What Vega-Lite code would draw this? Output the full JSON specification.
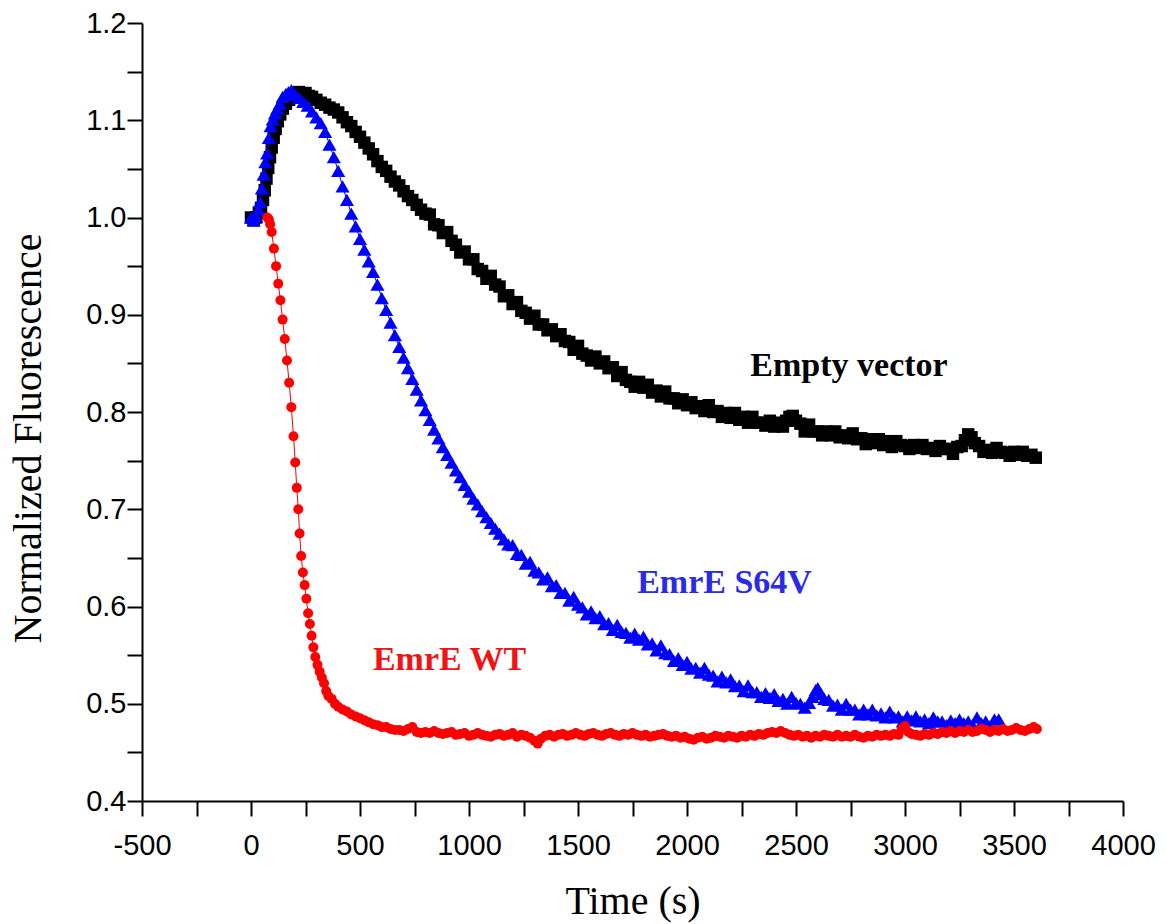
{
  "$schema": "https://vega.github.io/schema/vega-lite/v6.json",
  "width": 981,
  "height": 778,
  "autosize": {"type": "none"},
  "padding": {"left": 142, "top": 23, "right": 43, "bottom": 123},
  "background": "white",
  "config": {"view": {"stroke": null}},
  "datasets": {
    "empty": [
      {"t":0,"v":1.000},{"t":12,"v":0.997},{"t":24,"v":1.000},{"t":36,"v":1.005},{"t":46,"v":1.010},{"t":55,"v":1.018},{"t":63,"v":1.028},{"t":71,"v":1.040},{"t":79,"v":1.051},{"t":87,"v":1.062},{"t":95,"v":1.072},{"t":104,"v":1.082},{"t":113,"v":1.091},{"t":123,"v":1.099},{"t":134,"v":1.106},{"t":146,"v":1.112},{"t":160,"v":1.117},{"t":175,"v":1.121},{"t":190,"v":1.124},{"t":205,"v":1.127},{"t":220,"v":1.129},{"t":235,"v":1.127},{"t":250,"v":1.128},{"t":265,"v":1.125},{"t":280,"v":1.124},{"t":300,"v":1.121},{"t":320,"v":1.118},{"t":340,"v":1.116},{"t":360,"v":1.113},{"t":380,"v":1.111},{"t":400,"v":1.108},{"t":420,"v":1.103},{"t":440,"v":1.098},{"t":460,"v":1.094},{"t":480,"v":1.088},{"t":500,"v":1.083},{"t":520,"v":1.077},{"t":540,"v":1.071},{"t":560,"v":1.065},{"t":580,"v":1.058},{"t":600,"v":1.052},{"t":620,"v":1.048},{"t":640,"v":1.042},{"t":660,"v":1.037},{"t":680,"v":1.033},{"t":700,"v":1.027},{"t":720,"v":1.022},{"t":740,"v":1.018},{"t":760,"v":1.013},{"t":780,"v":1.008},{"t":800,"v":1.004},{"t":820,"v":1.003},{"t":840,"v":0.993},{"t":860,"v":0.992},{"t":880,"v":0.984},{"t":900,"v":0.985},{"t":920,"v":0.976},{"t":940,"v":0.972},{"t":960,"v":0.964},{"t":980,"v":0.965},{"t":1000,"v":0.957},{"t":1020,"v":0.957},{"t":1040,"v":0.947},{"t":1060,"v":0.945},{"t":1080,"v":0.937},{"t":1100,"v":0.940},{"t":1120,"v":0.931},{"t":1140,"v":0.929},{"t":1160,"v":0.919},{"t":1180,"v":0.920},{"t":1200,"v":0.911},{"t":1220,"v":0.913},{"t":1240,"v":0.904},{"t":1260,"v":0.902},{"t":1280,"v":0.896},{"t":1300,"v":0.899},{"t":1320,"v":0.890},{"t":1340,"v":0.890},{"t":1360,"v":0.884},{"t":1380,"v":0.885},{"t":1400,"v":0.878},{"t":1420,"v":0.880},{"t":1440,"v":0.873},{"t":1460,"v":0.872},{"t":1480,"v":0.864},{"t":1500,"v":0.868},{"t":1520,"v":0.860},{"t":1540,"v":0.858},{"t":1560,"v":0.853},{"t":1580,"v":0.857},{"t":1600,"v":0.850},{"t":1620,"v":0.852},{"t":1640,"v":0.845},{"t":1660,"v":0.846},{"t":1680,"v":0.837},{"t":1700,"v":0.841},{"t":1720,"v":0.833},{"t":1740,"v":0.831},{"t":1760,"v":0.826},{"t":1780,"v":0.831},{"t":1800,"v":0.825},{"t":1820,"v":0.828},{"t":1840,"v":0.820},{"t":1860,"v":0.822},{"t":1880,"v":0.816},{"t":1900,"v":0.821},{"t":1920,"v":0.814},{"t":1940,"v":0.814},{"t":1960,"v":0.809},{"t":1980,"v":0.813},{"t":2000,"v":0.807},{"t":2020,"v":0.810},{"t":2040,"v":0.804},{"t":2060,"v":0.806},{"t":2080,"v":0.801},{"t":2100,"v":0.807},{"t":2120,"v":0.800},{"t":2140,"v":0.801},{"t":2160,"v":0.795},{"t":2180,"v":0.799},{"t":2200,"v":0.794},{"t":2220,"v":0.799},{"t":2240,"v":0.792},{"t":2260,"v":0.795},{"t":2280,"v":0.789},{"t":2300,"v":0.795},{"t":2320,"v":0.789},{"t":2340,"v":0.789},{"t":2360,"v":0.786},{"t":2380,"v":0.791},{"t":2400,"v":0.785},{"t":2420,"v":0.789},{"t":2440,"v":0.785},{"t":2455,"v":0.791},{"t":2470,"v":0.795},{"t":2485,"v":0.796},{"t":2500,"v":0.791},{"t":2520,"v":0.788},{"t":2540,"v":0.780},{"t":2560,"v":0.787},{"t":2580,"v":0.780},{"t":2600,"v":0.780},{"t":2620,"v":0.776},{"t":2640,"v":0.780},{"t":2660,"v":0.776},{"t":2680,"v":0.780},{"t":2700,"v":0.774},{"t":2720,"v":0.776},{"t":2740,"v":0.773},{"t":2760,"v":0.778},{"t":2780,"v":0.772},{"t":2800,"v":0.773},{"t":2820,"v":0.767},{"t":2840,"v":0.772},{"t":2860,"v":0.768},{"t":2880,"v":0.772},{"t":2900,"v":0.766},{"t":2920,"v":0.770},{"t":2940,"v":0.764},{"t":2960,"v":0.770},{"t":2980,"v":0.766},{"t":3000,"v":0.765},{"t":3020,"v":0.762},{"t":3040,"v":0.766},{"t":3060,"v":0.763},{"t":3080,"v":0.766},{"t":3100,"v":0.762},{"t":3120,"v":0.763},{"t":3140,"v":0.760},{"t":3160,"v":0.765},{"t":3180,"v":0.762},{"t":3200,"v":0.762},{"t":3220,"v":0.757},{"t":3240,"v":0.764},{"t":3260,"v":0.765},{"t":3275,"v":0.771},{"t":3290,"v":0.777},{"t":3305,"v":0.774},{"t":3320,"v":0.768},{"t":3340,"v":0.765},{"t":3360,"v":0.759},{"t":3380,"v":0.761},{"t":3400,"v":0.758},{"t":3420,"v":0.763},{"t":3440,"v":0.759},{"t":3460,"v":0.758},{"t":3480,"v":0.755},{"t":3500,"v":0.759},{"t":3520,"v":0.756},{"t":3540,"v":0.759},{"t":3560,"v":0.755},{"t":3580,"v":0.756},{"t":3600,"v":0.753}
    ],
    "s64v": [
      {"t":0,"v":1.000},{"t":12,"v":0.997},{"t":24,"v":1.001},{"t":34,"v":1.008},{"t":42,"v":1.016},{"t":50,"v":1.030},{"t":58,"v":1.044},{"t":66,"v":1.057},{"t":74,"v":1.066},{"t":82,"v":1.082},{"t":90,"v":1.094},{"t":100,"v":1.101},{"t":110,"v":1.107},{"t":120,"v":1.112},{"t":132,"v":1.117},{"t":145,"v":1.124},{"t":160,"v":1.127},{"t":172,"v":1.129},{"t":185,"v":1.131},{"t":200,"v":1.126},{"t":220,"v":1.123},{"t":240,"v":1.119},{"t":260,"v":1.115},{"t":280,"v":1.109},{"t":300,"v":1.103},{"t":320,"v":1.097},{"t":340,"v":1.088},{"t":360,"v":1.075},{"t":380,"v":1.062},{"t":400,"v":1.048},{"t":420,"v":1.032},{"t":440,"v":1.018},{"t":460,"v":1.004},{"t":480,"v":0.991},{"t":500,"v":0.978},{"t":520,"v":0.967},{"t":540,"v":0.955},{"t":560,"v":0.944},{"t":580,"v":0.931},{"t":600,"v":0.917},{"t":620,"v":0.905},{"t":640,"v":0.892},{"t":660,"v":0.879},{"t":680,"v":0.867},{"t":700,"v":0.856},{"t":720,"v":0.845},{"t":740,"v":0.834},{"t":760,"v":0.823},{"t":780,"v":0.812},{"t":800,"v":0.802},{"t":820,"v":0.792},{"t":840,"v":0.782},{"t":860,"v":0.773},{"t":880,"v":0.764},{"t":900,"v":0.756},{"t":920,"v":0.748},{"t":940,"v":0.740},{"t":960,"v":0.733},{"t":980,"v":0.725},{"t":1000,"v":0.718},{"t":1020,"v":0.711},{"t":1040,"v":0.705},{"t":1060,"v":0.698},{"t":1080,"v":0.692},{"t":1100,"v":0.686},{"t":1120,"v":0.680},{"t":1140,"v":0.675},{"t":1160,"v":0.669},{"t":1180,"v":0.664},{"t":1200,"v":0.663},{"t":1220,"v":0.654},{"t":1240,"v":0.653},{"t":1260,"v":0.644},{"t":1280,"v":0.646},{"t":1300,"v":0.637},{"t":1320,"v":0.635},{"t":1340,"v":0.628},{"t":1360,"v":0.630},{"t":1380,"v":0.621},{"t":1400,"v":0.622},{"t":1420,"v":0.614},{"t":1440,"v":0.614},{"t":1460,"v":0.606},{"t":1480,"v":0.610},{"t":1500,"v":0.602},{"t":1520,"v":0.599},{"t":1540,"v":0.592},{"t":1560,"v":0.595},{"t":1580,"v":0.588},{"t":1600,"v":0.590},{"t":1620,"v":0.582},{"t":1640,"v":0.583},{"t":1660,"v":0.576},{"t":1680,"v":0.581},{"t":1700,"v":0.574},{"t":1720,"v":0.573},{"t":1740,"v":0.568},{"t":1760,"v":0.572},{"t":1780,"v":0.566},{"t":1800,"v":0.569},{"t":1820,"v":0.561},{"t":1840,"v":0.562},{"t":1860,"v":0.555},{"t":1880,"v":0.560},{"t":1900,"v":0.552},{"t":1920,"v":0.551},{"t":1940,"v":0.544},{"t":1960,"v":0.547},{"t":1980,"v":0.540},{"t":2000,"v":0.543},{"t":2020,"v":0.536},{"t":2040,"v":0.537},{"t":2060,"v":0.532},{"t":2080,"v":0.537},{"t":2100,"v":0.530},{"t":2120,"v":0.529},{"t":2140,"v":0.523},{"t":2160,"v":0.528},{"t":2180,"v":0.522},{"t":2200,"v":0.525},{"t":2220,"v":0.518},{"t":2240,"v":0.519},{"t":2260,"v":0.513},{"t":2280,"v":0.519},{"t":2300,"v":0.512},{"t":2320,"v":0.512},{"t":2340,"v":0.507},{"t":2360,"v":0.511},{"t":2380,"v":0.506},{"t":2400,"v":0.510},{"t":2420,"v":0.503},{"t":2440,"v":0.505},{"t":2460,"v":0.500},{"t":2480,"v":0.507},{"t":2500,"v":0.501},{"t":2520,"v":0.500},{"t":2540,"v":0.496},{"t":2560,"v":0.501},{"t":2575,"v":0.507},{"t":2590,"v":0.514},{"t":2600,"v":0.516},{"t":2615,"v":0.510},{"t":2630,"v":0.505},{"t":2650,"v":0.504},{"t":2670,"v":0.498},{"t":2690,"v":0.499},{"t":2710,"v":0.494},{"t":2730,"v":0.500},{"t":2750,"v":0.494},{"t":2770,"v":0.494},{"t":2790,"v":0.489},{"t":2810,"v":0.494},{"t":2830,"v":0.489},{"t":2850,"v":0.494},{"t":2870,"v":0.488},{"t":2890,"v":0.490},{"t":2910,"v":0.486},{"t":2930,"v":0.492},{"t":2950,"v":0.486},{"t":2970,"v":0.487},{"t":2990,"v":0.482},{"t":3010,"v":0.487},{"t":3030,"v":0.483},{"t":3050,"v":0.487},{"t":3070,"v":0.482},{"t":3090,"v":0.484},{"t":3110,"v":0.480},{"t":3130,"v":0.486},{"t":3150,"v":0.482},{"t":3170,"v":0.482},{"t":3190,"v":0.478},{"t":3210,"v":0.483},{"t":3230,"v":0.480},{"t":3250,"v":0.484},{"t":3270,"v":0.480},{"t":3290,"v":0.482},{"t":3310,"v":0.478},{"t":3330,"v":0.486},{"t":3350,"v":0.480},{"t":3370,"v":0.482},{"t":3390,"v":0.477},{"t":3410,"v":0.484},{"t":3430,"v":0.484}
    ],
    "wt": [
      {"t":75,"v":1.000},{"t":82,"v":0.998},{"t":88,"v":0.993},{"t":95,"v":0.985},{"t":105,"v":0.968},{"t":115,"v":0.950},{"t":125,"v":0.932},{"t":135,"v":0.915},{"t":145,"v":0.895},{"t":155,"v":0.875},{"t":165,"v":0.853},{"t":175,"v":0.830},{"t":185,"v":0.805},{"t":195,"v":0.775},{"t":203,"v":0.748},{"t":210,"v":0.722},{"t":217,"v":0.700},{"t":223,"v":0.675},{"t":230,"v":0.652},{"t":238,"v":0.635},{"t":246,"v":0.622},{"t":254,"v":0.608},{"t":262,"v":0.593},{"t":270,"v":0.582},{"t":278,"v":0.570},{"t":286,"v":0.558},{"t":295,"v":0.548},{"t":305,"v":0.540},{"t":315,"v":0.533},{"t":325,"v":0.527},{"t":335,"v":0.521},{"t":345,"v":0.513},{"t":355,"v":0.508},{"t":370,"v":0.505},{"t":385,"v":0.500},{"t":400,"v":0.497},{"t":420,"v":0.494},{"t":440,"v":0.492},{"t":460,"v":0.489},{"t":480,"v":0.487},{"t":500,"v":0.485},{"t":520,"v":0.483},{"t":540,"v":0.481},{"t":560,"v":0.479},{"t":580,"v":0.478},{"t":600,"v":0.476},{"t":620,"v":0.476},{"t":640,"v":0.474},{"t":660,"v":0.473},{"t":680,"v":0.473},{"t":700,"v":0.472},{"t":720,"v":0.474},{"t":740,"v":0.476},{"t":760,"v":0.471},{"t":780,"v":0.470},{"t":800,"v":0.471},{"t":820,"v":0.470},{"t":840,"v":0.472},{"t":860,"v":0.470},{"t":880,"v":0.469},{"t":900,"v":0.470},{"t":920,"v":0.471},{"t":940,"v":0.468},{"t":960,"v":0.469},{"t":980,"v":0.470},{"t":1000,"v":0.467},{"t":1020,"v":0.468},{"t":1040,"v":0.470},{"t":1060,"v":0.468},{"t":1080,"v":0.467},{"t":1100,"v":0.466},{"t":1120,"v":0.468},{"t":1140,"v":0.469},{"t":1160,"v":0.467},{"t":1180,"v":0.468},{"t":1200,"v":0.470},{"t":1220,"v":0.466},{"t":1240,"v":0.468},{"t":1260,"v":0.467},{"t":1280,"v":0.465},{"t":1300,"v":0.462},{"t":1315,"v":0.459},{"t":1330,"v":0.464},{"t":1350,"v":0.467},{"t":1370,"v":0.468},{"t":1390,"v":0.466},{"t":1410,"v":0.468},{"t":1430,"v":0.469},{"t":1450,"v":0.467},{"t":1470,"v":0.468},{"t":1490,"v":0.470},{"t":1510,"v":0.468},{"t":1530,"v":0.467},{"t":1550,"v":0.469},{"t":1570,"v":0.470},{"t":1590,"v":0.468},{"t":1610,"v":0.467},{"t":1630,"v":0.469},{"t":1650,"v":0.470},{"t":1670,"v":0.468},{"t":1690,"v":0.467},{"t":1710,"v":0.469},{"t":1730,"v":0.468},{"t":1750,"v":0.470},{"t":1770,"v":0.468},{"t":1790,"v":0.467},{"t":1810,"v":0.468},{"t":1830,"v":0.466},{"t":1850,"v":0.467},{"t":1870,"v":0.468},{"t":1890,"v":0.469},{"t":1910,"v":0.467},{"t":1930,"v":0.466},{"t":1950,"v":0.467},{"t":1970,"v":0.465},{"t":1990,"v":0.466},{"t":2010,"v":0.464},{"t":2030,"v":0.463},{"t":2050,"v":0.465},{"t":2070,"v":0.466},{"t":2090,"v":0.464},{"t":2110,"v":0.465},{"t":2130,"v":0.467},{"t":2150,"v":0.466},{"t":2170,"v":0.465},{"t":2190,"v":0.467},{"t":2210,"v":0.466},{"t":2230,"v":0.465},{"t":2250,"v":0.467},{"t":2270,"v":0.466},{"t":2290,"v":0.468},{"t":2310,"v":0.467},{"t":2330,"v":0.469},{"t":2350,"v":0.468},{"t":2370,"v":0.470},{"t":2390,"v":0.471},{"t":2410,"v":0.470},{"t":2430,"v":0.472},{"t":2450,"v":0.470},{"t":2470,"v":0.468},{"t":2490,"v":0.467},{"t":2510,"v":0.468},{"t":2530,"v":0.466},{"t":2550,"v":0.467},{"t":2570,"v":0.465},{"t":2590,"v":0.467},{"t":2610,"v":0.466},{"t":2630,"v":0.468},{"t":2650,"v":0.467},{"t":2670,"v":0.466},{"t":2690,"v":0.468},{"t":2710,"v":0.466},{"t":2730,"v":0.467},{"t":2750,"v":0.466},{"t":2770,"v":0.468},{"t":2790,"v":0.466},{"t":2810,"v":0.465},{"t":2830,"v":0.467},{"t":2850,"v":0.466},{"t":2870,"v":0.468},{"t":2890,"v":0.467},{"t":2910,"v":0.468},{"t":2930,"v":0.467},{"t":2950,"v":0.469},{"t":2970,"v":0.468},{"t":2985,"v":0.474},{"t":3000,"v":0.477},{"t":3015,"v":0.471},{"t":3030,"v":0.469},{"t":3050,"v":0.468},{"t":3070,"v":0.467},{"t":3090,"v":0.469},{"t":3110,"v":0.468},{"t":3130,"v":0.470},{"t":3150,"v":0.469},{"t":3170,"v":0.471},{"t":3190,"v":0.470},{"t":3210,"v":0.472},{"t":3230,"v":0.470},{"t":3250,"v":0.472},{"t":3270,"v":0.471},{"t":3290,"v":0.473},{"t":3310,"v":0.471},{"t":3330,"v":0.472},{"t":3350,"v":0.474},{"t":3370,"v":0.473},{"t":3390,"v":0.471},{"t":3410,"v":0.473},{"t":3430,"v":0.472},{"t":3450,"v":0.474},{"t":3470,"v":0.472},{"t":3490,"v":0.473},{"t":3510,"v":0.475},{"t":3530,"v":0.473},{"t":3550,"v":0.472},{"t":3570,"v":0.474},{"t":3590,"v":0.476},{"t":3605,"v":0.474}
    ],
    "labels": [
      {"label": "Empty vector", "t": 2743, "v": 0.8366, "series": "Empty vector"},
      {"label": "EmrE S64V", "t": 2172, "v": 0.6142, "series": "EmrE S64V"},
      {"label": "EmrE WT", "t": 911, "v": 0.5349, "series": "EmrE WT"}
    ]
  },
  "encoding": {
    "x": {
      "field": "t", "type": "quantitative",
      "scale": {"domain": [-500, 4000], "nice": false, "zero": false},
      "axis": {
        "title": "Time (s)",
        "values": [-500,-250,0,250,500,750,1000,1250,1500,1750,2000,2250,2500,2750,3000,3250,3500,3750,4000],
        "labelExpr": "datum.value % 500 === 0 ? '' + datum.value : ''",
        "labelOverlap": false,
        "labelFlush": false,
        "labelFont": "Liberation Sans",
        "labelFontSize": 29,
        "labelColor": "black",
        "labelPadding": 15,
        "tickSize": 15,
        "tickWidth": 2,
        "tickColor": "black",
        "domainWidth": 2,
        "domainColor": "black",
        "grid": false,
        "titleFont": "Liberation Serif",
        "titleFontSize": 40,
        "titleFontWeight": "normal",
        "titleColor": "black",
        "titleBaseline": "alphabetic",
        "titleY": 112,
        "encode": {"ticks": {"update": {"y2": {"signal": "datum.value % 500 === 0 ? 15 : 8"}}}}
      }
    },
    "y": {
      "field": "v", "type": "quantitative",
      "scale": {"domain": [0.4, 1.2], "nice": false, "zero": false},
      "axis": {
        "title": "Normalized Fluorescence",
        "values": [0.4,0.45,0.5,0.55,0.6,0.65,0.7,0.75,0.8,0.85,0.9,0.95,1.0,1.05,1.1,1.15,1.2],
        "format": ".1f",
        "labelExpr": "abs(datum.value*10 - round(datum.value*10)) < 0.001 ? datum.label : ''",
        "labelOverlap": false,
        "labelFlush": false,
        "labelFont": "Liberation Sans",
        "labelFontSize": 29,
        "labelColor": "black",
        "labelPadding": 1,
        "tickSize": 15,
        "tickWidth": 2,
        "tickColor": "black",
        "domainWidth": 2,
        "domainColor": "black",
        "grid": false,
        "titleFont": "Liberation Serif",
        "titleFontSize": 40,
        "titleFontWeight": "normal",
        "titleColor": "black",
        "titleAngle": -90,
        "titleAlign": "center",
        "titleBaseline": "alphabetic",
        "titleX": -102,
        "titleY": 415,
        "encode": {"ticks": {"update": {"x2": {"signal": "abs(datum.value*10 - round(datum.value*10)) < 0.001 ? -15 : -9"}}}}
      }
    }
  },
  "layer": [
    {
      "data": {"name": "empty"},
      "mark": {"type": "line", "color": "black", "strokeWidth": 1,
        "point": {"shape": "square", "size": 155, "filled": true, "color": "black", "opacity": 1}}
    },
    {
      "data": {"name": "s64v"},
      "mark": {"type": "line", "color": "#0000ff", "strokeWidth": 1,
        "point": {"shape": "triangle-up", "size": 200, "filled": true, "color": "#0000ff", "opacity": 1}}
    },
    {
      "data": {"name": "wt"},
      "mark": {"type": "line", "color": "#ff0000", "strokeWidth": 1,
        "point": {"shape": "circle", "size": 100, "filled": true, "color": "#ff0000", "opacity": 1}}
    },
    {
      "data": {"name": "labels"},
      "mark": {"type": "text", "font": "Liberation Serif", "fontSize": 34, "fontWeight": "bold", "align": "center", "baseline": "alphabetic"},
      "encoding": {
        "text": {"field": "label"},
        "color": {
          "field": "series", "type": "nominal",
          "scale": {"domain": ["Empty vector", "EmrE S64V", "EmrE WT"], "range": ["#000000", "#2b2be6", "#f01414"]},
          "legend": null
        }
      }
    }
  ]
}
